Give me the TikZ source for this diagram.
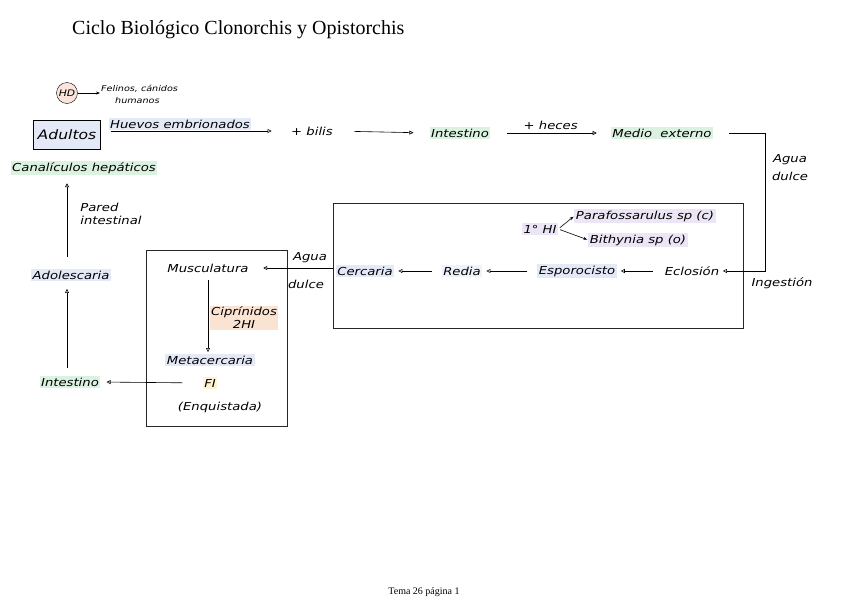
\documentclass[tikz,border=0pt]{standalone}
\usepackage{fontspec}
\setmainfont{Liberation Serif}
\newfontfamily\hand[FakeStretch=1.2]{DejaVu Sans}
\usetikzlibrary{arrows.meta,positioning}
\definecolor{hlblue}{HTML}{E4E9F7}
\definecolor{hlgreen}{HTML}{DCF2E1}
\definecolor{hllav}{HTML}{ECE5F6}
\definecolor{hlpeach}{HTML}{FBE3D3}
\definecolor{hlyellow}{HTML}{FFF3D3}
\definecolor{hlpink}{HTML}{FBE4DC}

\begin{document}
\begin{tikzpicture}[x=1pt, y=-1pt, font=\hand\itshape\fontsize{11}{13}\selectfont,
  lab/.style={inner sep=1.5pt},
  hl/.style={fill=#1, inner sep=1.5pt},
  frame/.style={draw=black!85, line width=0.8pt, inner sep=0pt},
  flow/.style={-{Triangle[open,length=4pt,width=4pt]}, line width=0.6pt},
  tip/.style={-{Stealth[length=4pt]}, line width=0.6pt},
  small/.style={inner sep=1pt, font=\hand\itshape\fontsize{8}{9}\selectfont}]
\useasboundingbox (0,0) rectangle (848,600);
% =================== title and footer ===================
\node[font=\rmfamily\upshape\fontsize{20}{24}\selectfont, anchor=west, inner sep=0pt] (title) at (72,30)
   {Ciclo Biológico Clonorchis y Opistorchis};
\node[font=\rmfamily\upshape\fontsize{10}{12}\selectfont, inner sep=0pt] (footer) at (424,592) {Tema 26 página 1};
% =================== definitive host, top row ===================
\node[circle, draw, fill=hlpink, minimum size=21pt, inner sep=0pt,
      font=\hand\itshape\fontsize{9}{10}\selectfont] (hd) at (67,93) {HD};
\node[small, anchor=west] (fel) at (100,89) {Felinos, cánidos};
\node[small, anchor=west] (hum) at (114,101) {humanos};
\draw[tip] (hd.east) -- (hd.east -| fel.west);

\node[draw, fill=hlblue, minimum width=67pt, minimum height=29pt,
      font=\hand\itshape\fontsize{13}{15}\selectfont] (adultos) at (67,135) {Adultos};
\node[lab] (bilis) at (312,131) {+ bilis};
\node[hl=hlgreen] (int1) at (460,133) {Intestino};
\node[hl=hlgreen] (medio) at (662,133) {Medio\ \ externo};
\draw[flow, shorten <=10pt, shorten >=18pt] (adultos.east |- bilis) -- (bilis.west)
   node[pos=0.42, above=1pt, hl=hlblue] (huevos) {Huevos embrionados};
\draw[flow, shorten <=20pt, shorten >=16pt] (bilis.east) -- (int1.west);
\draw[flow, shorten <=16pt, shorten >=14pt] (int1.east) -- (medio.west)
   node[midway, above=2pt, lab] (heces) {+ heces};
% =================== first intermediate host ===================
\node[frame, minimum width=410pt, minimum height=125pt] (ciclo1) at (538,265.5) {};
\node[hl=hllav] (hi) at (540,229) {1° HI};
\node[hl=hllav] (para) at (645,216) {Parafossarulus sp (c)};
\node[hl=hllav] (bith) at (638,240) {Bithynia sp (o)};
\draw[tip, shorten <=2pt, shorten >=1pt] (hi.east) -- (para.west);
\draw[tip, shorten <=2pt, shorten >=1pt] (hi.east) -- (bith.west);

\node[hl=hlblue] (cerc) at (365,271) {Cercaria};
\node[hl=hlblue!60] (redia) at (462,271) {Redia};
\node[hl=hlblue] (espor) at (577,271) {Esporocisto};
\node[lab] (eclos) at (692,271) {Eclosión};
\foreach \a/\b in {redia/cerc, espor/redia, eclos/espor}
  \draw[flow, shorten <=10pt, shorten >=4pt] (\a.west) -- (\b.east);

\coordinate (bend) at (765,200);
\draw[flow, shorten >=2pt] ([xshift=16pt]medio.east) -| (bend) |- (eclos.east);
\node[lab, align=center] (agua1) at (790,168) {Agua\\[5pt]dulce};
\node[lab] (ingest) at (782,283) {Ingestión};
% =================== second intermediate host ===================
\node[frame, minimum width=141pt, minimum height=176pt] (ciclo2) at (216.5,338) {};
\node[lab] (musc) at (208,268) {Musculatura};
\node[hl=hlblue] (meta) at (210,360) {Metacercaria};
\node[hl=hlyellow] (fi) at (210,383) {FI};
\node[lab] (enq) at (220,407) {(Enquistada)};
\node[hl=hlpeach, align=center] (cipr) at (244,318) {Ciprínidos\\2HI};
\draw[flow, shorten <=6pt, shorten >=2pt] (musc.south) -- (musc.south |- meta.north);

\draw[flow, shorten >=13pt] (ciclo1.west |- musc) -- (musc.east);
\node[lab] (agua2) at (310,258) {Agua};
\node[lab] (dulce2) at (306,284) {dulce};
% =================== definitive host, inside ===================
\node[hl=hlgreen] (int2) at (70,382) {Intestino};
\node[hl=hlblue] (adol) at (71,275) {Adolescaria};
\node[hl=hlgreen] (canal) at (84,168) {Canalículos hepáticos};
\node[lab, align=left] (pared) at (111,214) {Pared\\intestinal};
\draw[flow, shorten <=20pt, shorten >=6pt] (fi.west) -- (int2.east);
\draw[flow, shorten <=8pt, shorten >=8pt] ([xshift=-3pt]int2.north) -- ([xshift=-3pt]int2.north |- adol.south);
\draw[flow, shorten <=12pt, shorten >=8pt] ([xshift=-4pt]adol.north) -- ([xshift=-4pt]adol.north |- canal.south);
\end{tikzpicture}
\end{document}
